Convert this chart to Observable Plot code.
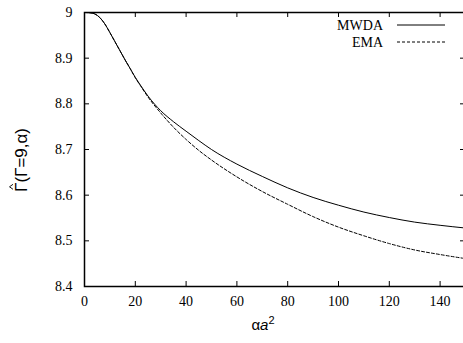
<!DOCTYPE html>
<html>
<head>
<meta charset="utf-8">
<script src="https://cdn.jsdelivr.net/npm/d3@7"></script>
<script src="https://cdn.jsdelivr.net/npm/@observablehq/plot@0.6"></script>
<style>
  html, body { margin: 0; padding: 0; background: white; }
</style>
</head>
<body>
<div id="chart"></div>
<script>
const xValues = [0, 2, 4, 6, 8, 10, 12, 14, 16, 18, 20, 22, 25, 30, 35, 40, 45, 50, 60, 70, 80, 90, 100, 110, 120, 130, 140, 150];
const mwda = [9.0, 8.9995, 8.997, 8.989, 8.975, 8.956, 8.936, 8.916, 8.896, 8.877, 8.858, 8.841, 8.817, 8.785, 8.761, 8.740, 8.7195, 8.700, 8.668, 8.641, 8.616, 8.595, 8.578, 8.563, 8.551, 8.541, 8.534, 8.528];
const ema  = [9.0, 8.9995, 8.997, 8.989, 8.975, 8.956, 8.936, 8.916, 8.896, 8.877, 8.857, 8.840, 8.815, 8.780, 8.749, 8.722, 8.698, 8.677, 8.640, 8.608, 8.580, 8.553, 8.530, 8.511, 8.494, 8.480, 8.470, 8.461];
const seriesNames = ["MWDA", "EMA"];
const xTicks = [0, 20, 40, 60, 80, 100, 120, 140];
const yTicks = [8.4, 8.5, 8.6, 8.7, 8.8, 8.9, 9.0];
const yTickLabels = ["8.4", "8.5", "8.6", "8.7", "8.8", "8.9", "9"];

const W = 463, H = 343, mL = 84, mR = -2, mT = 12, mB = 57;
const plotH = H - mT - mB, plotW = W - mL - mR, tk = 5;

const rows = xValues.map((x, i) => ({x, mwda: mwda[i], ema: ema[i]}));

const chart = Plot.plot({
  width: W, height: H,
  marginLeft: mL, marginRight: mR, marginTop: mT, marginBottom: mB,
  x: {domain: [0, 150]},
  y: {domain: [8.4, 9.0]},
  style: {fontFamily: "'Liberation Serif', serif", fontSize: "14px", background: "white", color: "black"},
  marks: [
    Plot.axisX(xTicks, {tickSize: 0, tickPadding: 10, label: null, tickFormat: d => String(d), fontSize: 14}),
    Plot.axisY(yTicks, {tickSize: 0, tickPadding: 12, label: null, tickFormat: d => yTickLabels[yTicks.indexOf(d)], fontSize: 14}),
    Plot.tickX(xTicks, {x: d => d, insetTop: plotH - tk, stroke: "black"}),
    Plot.tickX(xTicks, {x: d => d, insetBottom: plotH - tk, stroke: "black"}),
    Plot.tickY(yTicks, {y: d => d, insetRight: plotW - tk, stroke: "black"}),
    Plot.tickY(yTicks, {y: d => d, insetLeft: plotW - tk, stroke: "black"}),
    Plot.line(rows, {x: "x", y: "mwda", stroke: "black", strokeWidth: 1, curve: "monotone-x"}),
    Plot.line(rows, {x: "x", y: "ema", stroke: "black", strokeWidth: 1, strokeDasharray: "3,2", curve: "monotone-x"}),
    Plot.frame({stroke: "black", strokeWidth: 1.5})
  ]
});

const svg = d3.select(chart);
// legend
const lg = svg.append("g");
const legendStyles = [{dash: null}, {dash: "3,2"}];
seriesNames.forEach((name, i) => {
  const y = 25 + i * 17;
  lg.append("text").attr("x", 383).attr("y", y).attr("dy", "0.35em")
    .attr("text-anchor", "end").attr("font-family", "'Liberation Serif', serif")
    .attr("font-size", 14).text(name);
  const l = lg.append("line").attr("x1", 397).attr("x2", 445).attr("y1", y).attr("y2", y)
    .attr("stroke", "black").attr("stroke-width", 1);
  if (legendStyles[i].dash) l.attr("stroke-dasharray", legendStyles[i].dash);
});
// x label
const xl = svg.append("text").attr("x", 263).attr("y", 330).attr("text-anchor", "middle")
  .attr("font-family", "'Liberation Sans', sans-serif").attr("font-size", 15);
xl.append("tspan").text("α");
xl.append("tspan").attr("font-style", "italic").text("a");
xl.append("tspan").attr("dy", -6).attr("font-size", 11).text("2");
// y label with hat over first Gamma
const yg = svg.append("g").attr("transform", "translate(27,160) rotate(-90)");
const yt = yg.append("text").attr("x", 0).attr("y", 0).attr("text-anchor", "middle")
  .attr("font-family", "'Liberation Sans', sans-serif").attr("font-size", 17)
  .text("Γ(Γ=9,α)");
document.getElementById("chart").appendChild(chart);
// measure and position hat
const tb = yt.node().getBBox();
const gw = yt.node().getSubStringLength(0, 1);
const hx = tb.x + gw * 0.5 + 0.5;
yg.append("path").attr("d", `M${hx - 2.5},-14 L${hx},-17.5 L${hx + 2.5},-14`)
  .attr("fill", "none").attr("stroke", "black").attr("stroke-width", 0.9);
</script>
</body>
</html>
